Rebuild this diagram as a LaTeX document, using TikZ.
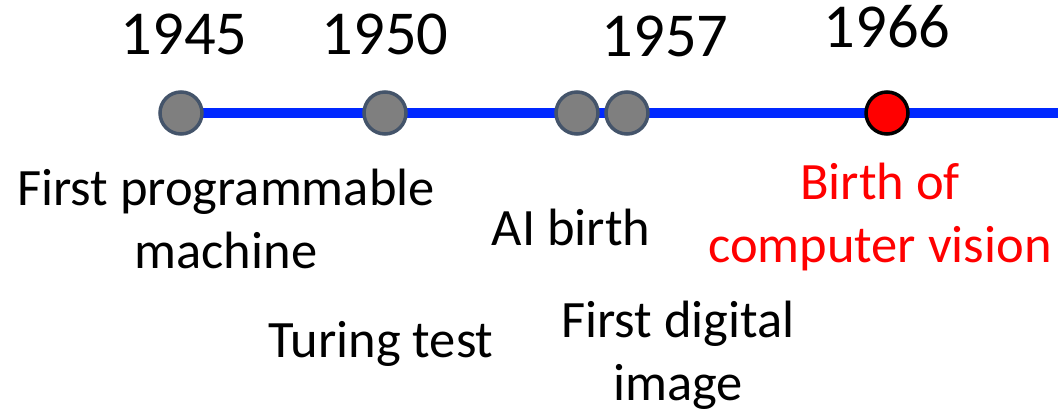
\documentclass[tikz,border=0pt]{standalone}
\usepackage{fontspec}
\setmainfont{Carlito}
\usetikzlibrary{backgrounds}
\definecolor{tlblue}{RGB}{0,40,255}
\definecolor{dotgray}{RGB}{127,127,127}
\definecolor{dotedge}{RGB}{68,84,106}
\definecolor{cvred}{RGB}{255,0,0}
\begin{document}
\begin{tikzpicture}[x=1pt,y=-1pt,
  year/.style={anchor=base,inner sep=0pt,font=\fontsize{62.5}{75}\selectfont},
  lbl/.style={anchor=base,inner sep=0pt,align=center,font=\fontsize{52.5}{63}\selectfont},
  evdot/.style={circle,minimum size=42pt,inner sep=0pt,line width=3.5pt,draw=dotedge,fill=dotgray},
  cvdot/.style={circle,minimum size=42pt,inner sep=0pt,line width=3.5pt,draw=black,fill=cvred},
  tline/.style={draw=tlblue,line width=10.5pt}]
\useasboundingbox (0,0) rectangle (1058,412);
\node[evdot] (c1) at (181,113) {};
\node[evdot] (c2) at (385,113) {};
\node[evdot] (c3) at (577,113) {};
\node[evdot] (c4) at (627,113) {};
\node[cvdot] (c5) at (887,113) {};
\coordinate (tend) at (1058,113);
\begin{scope}[on background layer]
\draw[tline] (c1.center) -- (tend);
\end{scope}
\node[year] (y1) at (184,55) {1945};
\node[year] (y2) at (385,55) {1950};
\node[year] (y3) at (665,57) {1957};
\node[year] (y4) at (887,48) {1966};
% multi-line labels: base anchor is the baseline of the last line
\node[lbl] (l1) at (226,268) {First programmable\\machine};
\node[lbl] (l2) at (381,357) {Turing test};
\node[lbl] (l3) at (571,245) {AI birth};
\node[lbl] (l4) at (678,400) {First digital\\image};
\node[lbl,text=cvred] (l5) at (880,262) {Birth of\\computer vision};
\end{tikzpicture}
\end{document}
